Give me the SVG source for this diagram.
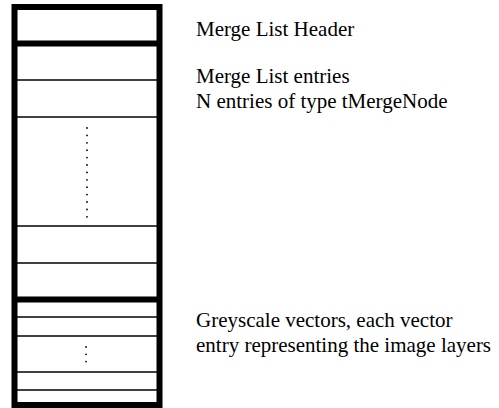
<svg xmlns="http://www.w3.org/2000/svg" width="499" height="408" viewBox="0 0 499 408">
<style>
.t{font-family:"Liberation Serif","Times New Roman",serif;font-size:21px;fill:#000}
.thick{stroke:#000;stroke-width:6;fill:none}
.thin{stroke:#000;stroke-width:1.6;fill:none}
.dot{fill:#000}
</style>
<rect width="499" height="408" fill="#fff"/>
<g id="structure">
<rect class="thick" x="14.5" y="7" width="145" height="398"/>
</g>
<g id="header">
<line class="thick" x1="14.5" y1="43.5" x2="159.5" y2="43.5"/>
<text class="t" x="196" y="36">Merge List Header</text>
</g>
<g id="entries">
<line class="thin" x1="17" y1="80" x2="157" y2="80"/>
<line class="thin" x1="17" y1="117" x2="157" y2="117"/>
<line class="thin" x1="17" y1="226" x2="157" y2="226"/>
<line class="thin" x1="17" y1="263" x2="157" y2="263"/>
<g class="dot">
<circle cx="87" cy="128" r="0.9"/><circle cx="87" cy="135.4" r="0.9"/><circle cx="87" cy="142.8" r="0.9"/><circle cx="87" cy="150.2" r="0.9"/><circle cx="87" cy="157.6" r="0.9"/><circle cx="87" cy="165" r="0.9"/><circle cx="87" cy="172.4" r="0.9"/><circle cx="87" cy="179.8" r="0.9"/><circle cx="87" cy="187.2" r="0.9"/><circle cx="87" cy="194.6" r="0.9"/><circle cx="87" cy="202" r="0.9"/><circle cx="87" cy="209.4" r="0.9"/><circle cx="87" cy="216.8" r="0.9"/>
</g>
<text class="t" x="196" y="83">Merge List entries</text>
<text class="t" x="196" y="108">N entries of type tMergeNode</text>
</g>
<g id="vectors">
<line class="thick" x1="14.5" y1="299.5" x2="159.5" y2="299.5"/>
<line class="thin" x1="17" y1="317" x2="157" y2="317"/>
<line class="thin" x1="17" y1="336" x2="157" y2="336"/>
<line class="thin" x1="17" y1="372" x2="157" y2="372"/>
<line class="thin" x1="17" y1="390" x2="157" y2="390"/>
<g class="dot">
<circle cx="86" cy="347" r="0.9"/><circle cx="86" cy="354.3" r="0.9"/><circle cx="86" cy="361.6" r="0.9"/>
</g>
<text class="t" x="196" y="327">Greyscale vectors, each vector</text>
<text class="t" x="196" y="352">entry representing the image layers</text>
</g>
<g id="connectors"></g>
</svg>
